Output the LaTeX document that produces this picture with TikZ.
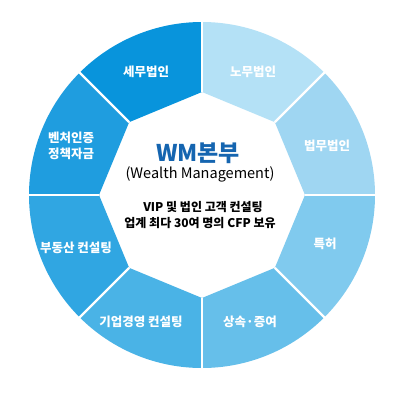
\documentclass[tikz,border=0pt]{standalone}
\usepackage{fontspec}
\setmainfont{Noto Sans CJK KR}
\definecolor{segA}{HTML}{9FD6F2}
\definecolor{segB}{HTML}{B4E1F6}
\definecolor{segC}{HTML}{0894DC}
\definecolor{segD}{HTML}{1F9DDF}
\definecolor{segE}{HTML}{30A6E2}
\definecolor{segF}{HTML}{4AB3E6}
\definecolor{segG}{HTML}{66BFEA}
\definecolor{segH}{HTML}{80CAEE}
\definecolor{wmblue}{HTML}{1565B0}
\tikzset{
  seglabel/.style={text=white, font=\fontsize{12.5}{15}\selectfont\bfseries, align=center, inner sep=0pt},
  centertext/.style={text=black, align=center, inner sep=0pt},
  sepline/.style={white, line width=2.4pt}
}
\begin{document}
\begin{tikzpicture}[x=1pt,y=1pt]
\fill[white] (0,0) rectangle (409,400);
\useasboundingbox (0,0) rectangle (409,400);
\begin{scope}[shift={(202,205)}]
\def\Rout{173}
\def\rin{103}
\foreach \a/\c in {0/segA,45/segB,90/segC,135/segD,180/segE,225/segF,270/segG,315/segH}{
  \fill[\c] (\a:\rin) -- (\a:\Rout) arc[start angle=\a, delta angle=45, radius=\Rout] -- (\a+45:\rin) -- cycle;
}
\foreach \a in {0,45,...,315}{
  \draw[sepline] (\a:\rin) -- (\a:\Rout+2);
}
\end{scope}
% segment labels
\node[seglabel] (semu) at (146,328) {세무법인};
\node[seglabel] (nomu) at (253,328) {노무법인};
\node[seglabel] (beopmu) at (327,254) {법무법인};
\node[seglabel] (teukheo) at (325,156) {특허};
\node[seglabel] (sangsok) at (250,78) {상속·증여};
\node[seglabel] (gieop) at (141,78) {기업경영 컨설팅};
\node[seglabel] (budong) at (76,152) {부동산 컨설팅};
\node[seglabel] (venture) at (71,254) {벤처인증\\[1pt]정책자금};
% center
\node[text=wmblue, font=\fontsize{23}{25}\selectfont\bfseries, inner sep=0pt] (wm) at (198,247) {WM본부};
\node[centertext, font=\fontsize{14.5}{16}\selectfont] (wealth) at (200,226) {(Wealth Management)};
\node[centertext, font=\fontsize{12}{15}\selectfont\bfseries] (vip) at (203,193) {VIP 및 법인 고객 컨설팅};
\node[centertext, font=\fontsize{12}{15}\selectfont\bfseries] (cfp) at (200,177) {업계 최다 30여 명의 CFP 보유};
\end{tikzpicture}
\end{document}
